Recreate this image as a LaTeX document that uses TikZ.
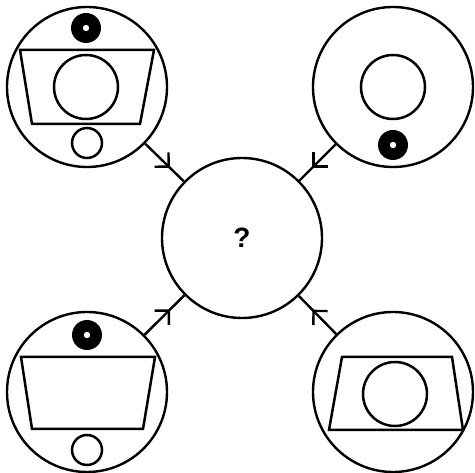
\documentclass[tikz,border=0pt]{standalone}
\usepackage{fontspec}
\newfontfamily\qfont{Liberation Sans}
\usetikzlibrary{arrows.meta,decorations.markings}
\begin{document}
\begin{tikzpicture}[x=1pt,y=-1pt,
  big/.style={circle,draw,line width=2.4pt,minimum size=160pt,inner sep=0pt},
  figline/.style={line width=2.5pt,line join=miter},
  blackdot/.style={fill=black},
  link/.style={line width=2.4pt,postaction={decorate},
    decoration={markings,mark=at position 0.64 with {\arrow[line width=2.4pt]{Straight Barb[length=10pt,width=20pt]}}}}]
\useasboundingbox (0,0) rectangle (475,473);
\node[big] (tl) at (87,87) {};
\node[big] (tr) at (393,87) {};
\node[big] (bl) at (87,392) {};
\node[big] (br) at (393,392) {};
\node[big] (c) at (242,238) {\fontsize{28}{28}\selectfont\qfont\bfseries ?};
\draw[link] (tl) -- (c);
\draw[link] (tr) -- (c);
\draw[link] (bl) -- (c);
\draw[link] (br) -- (c);
% top-left content
\fill[blackdot] (86,28) circle (15);
\fill[white] (86,28) circle (3.2);
\draw[figline] (20,50) -- (154,50) -- (140,124) -- (32,124) -- cycle;
\draw[figline] (86,87) circle (32);
\draw[figline] (87,143) circle (15);
% top-right content
\draw[figline] (393,87) circle (32);
\fill[blackdot] (393,145) circle (15);
\fill[white] (393,145) circle (3.2);
% bottom-left content
\fill[blackdot] (87,335) circle (15);
\fill[white] (87,335) circle (3.2);
\draw[figline] (21,357) -- (155,357) -- (143,429) -- (32,429) -- cycle;
\draw[figline] (87,450) circle (15);
% bottom-right content
\draw[figline] (342,357) -- (452,357) -- (463,430) -- (329,430) -- cycle;
\draw[figline] (395,394) circle (32);
\end{tikzpicture}
\end{document}
